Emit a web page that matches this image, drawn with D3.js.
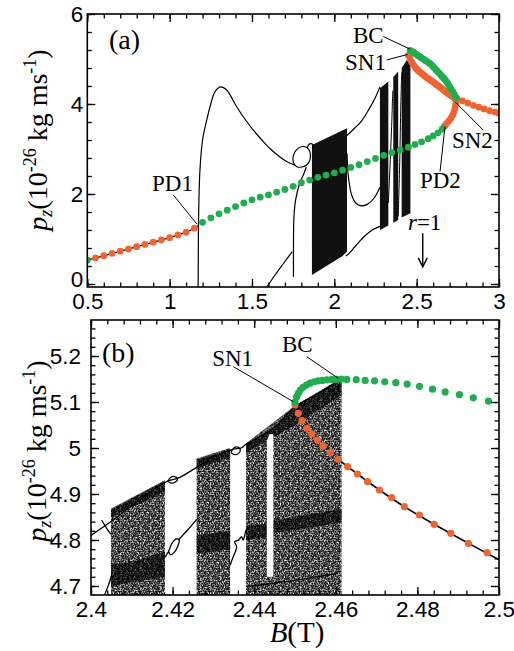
<!DOCTYPE html>
<html><head><meta charset="utf-8">
<script src="https://cdn.jsdelivr.net/npm/d3@7"></script>
<style>body{margin:0;background:#fff}</style>
</head><body>
<svg id="c" width="514" height="651" xmlns="http://www.w3.org/2000/svg"></svg>
<script>
// ---------------- DATA ----------------
// Panel (a): tick labels
const xTicksA = [0.5, 1, 1.5, 2, 2.5, 3];
const xTickLabelsA = ["0.5", "1", "1.5", "2", "2.5", "3"];
const yTicksA = [0, 2, 4, 6];
const yTickLabelsA = ["0", "2", "4", "6"];
// Panel (b): tick labels
const xTicksB = [2.4, 2.42, 2.44, 2.46, 2.48, 2.5];
const xTickLabelsB = ["2.4", "2.42", "2.44", "2.46", "2.48", "2.5"];
const yTicksB = [4.7, 4.8, 4.9, 5.0, 5.1, 5.2];
const yTickLabelsB = ["4.7", "4.8", "4.9", "5", "5.1", "5.2"];

// Panel (a) period-1 orbit: unstable (orange) before PD1
const orangeA1 = [[0.55,0.58],[0.60,0.63],[0.65,0.68],[0.70,0.73],[0.75,0.78],[0.80,0.83],[0.85,0.88],[0.90,0.93],[0.95,0.98],[1.00,1.03],[1.05,1.09],[1.10,1.15],[1.15,1.24]];
const pd1Point = [1.173, 1.29];
// stable (green) between PD1 and PD2
const greenA1 = [[0.5,0.53],[1.2,1.37],[1.25,1.47],[1.3,1.56],[1.35,1.64],[1.4,1.72],[1.45,1.80],[1.5,1.87],[1.55,1.93],[1.6,1.98],[1.65,2.04],[1.7,2.10],[1.75,2.17],[1.8,2.25],[1.85,2.31],[1.9,2.37],[1.95,2.42],[2.0,2.47],[2.05,2.53],[2.1,2.59],[2.15,2.65],[2.2,2.72],[2.25,2.79],[2.3,2.86],[2.35,2.92],[2.4,2.98],[2.45,3.04],[2.49,3.10],[2.53,3.16],[2.57,3.23],[2.6,3.29],[2.63,3.36],[2.655,3.44],[2.67,3.51]];
// orange from PD2 up to SN2
const orangeA2 = [[2.68,3.56],[2.695,3.62],[2.707,3.68],[2.718,3.75],[2.726,3.82],[2.732,3.90],[2.736,3.98],[2.74,4.06]];
// orange from SN2 to the right edge
const orangeA3 = [[2.745,4.12],[2.778,4.07],[2.811,4.02],[2.844,3.97],[2.877,3.93],[2.91,3.89],[2.943,3.85],[2.976,3.82],[3.0,3.79]];
// upper unstable branch SN1 -> SN2 (orange)
const orangeA4 = [[2.45,5.08],[2.46,5.00],[2.47,4.93],[2.48,4.87],[2.49,4.82],[2.50,4.78],[2.51,4.74],[2.52,4.71],[2.53,4.68],[2.54,4.65],[2.55,4.62],[2.56,4.59],[2.57,4.565],[2.58,4.54],[2.59,4.515],[2.60,4.49],[2.61,4.46],[2.62,4.43],[2.63,4.405],[2.64,4.38],[2.65,4.35],[2.66,4.32],[2.67,4.29],[2.68,4.26],[2.69,4.235],[2.70,4.21],[2.71,4.185],[2.72,4.16],[2.73,4.135],[2.74,4.11]];
// upper stable branch BC -> SN2 (green)
const greenA2 = [[2.46,5.19],[2.47,5.17],[2.48,5.15],[2.49,5.12],[2.50,5.10],[2.51,5.07],[2.52,5.05],[2.53,5.02],[2.54,5.00],[2.55,4.97],[2.56,4.95],[2.57,4.92],[2.58,4.90],[2.59,4.87],[2.60,4.83],[2.61,4.79],[2.62,4.75],[2.63,4.71],[2.64,4.67],[2.65,4.63],[2.66,4.59],[2.67,4.55],[2.68,4.50],[2.69,4.45],[2.70,4.39],[2.71,4.33],[2.72,4.27],[2.73,4.21],[2.74,4.14]];
// black bifurcation curves of panel (a)
const curveHump = [[1.173,-0.07],[1.174,0.6],[1.176,1.5],[1.184,2.53],[1.2,3.2],[1.225,3.64],[1.25,4.0],[1.275,4.27],[1.31,4.38],[1.346,4.31],[1.407,3.94],[1.46,3.65],[1.508,3.42],[1.56,3.2],[1.609,3.01],[1.66,2.85],[1.711,2.72],[1.761,2.64]];
const curveBubble = [[1.761,2.64],[1.75,2.72],[1.752,2.86],[1.77,2.98],[1.80,3.05],[1.83,3.04],[1.848,2.97],[1.855,2.86],[1.85,2.74],[1.83,2.64],[1.80,2.60],[1.775,2.60],[1.761,2.64]];
const curveBubble2 = [[1.835,3.02],[1.845,3.10],[1.86,3.12],[1.872,3.08],[1.866,3.0]];
const curveDiag = [[1.59,-0.07],[1.64,0.2],[1.69,0.45],[1.745,0.72]];
const curveVert = [[1.752,0.16],[1.752,0.9],[1.755,1.5],[1.765,1.87],[1.79,2.24],[1.815,2.45],[1.83,2.6]];
const curveU = [[2.077,2.9],[2.085,2.4],[2.105,1.98],[2.13,1.8],[2.16,1.74],[2.2,1.77],[2.24,1.9],[2.277,2.15]];
const curveUpper = [[2.077,3.3],[2.12,3.45],[2.165,3.62],[2.21,3.88],[2.25,4.15],[2.277,4.38]];
const curveLowerR = [[2.07,0.62],[2.09,0.68],[2.13,0.85],[2.18,1.05],[2.23,1.2],[2.277,1.28]];
const curveGap1 = [[2.328,1.8],[2.338,2.6],[2.348,3.5],[2.355,4.3]];
const curveGap2 = [[2.388,1.5],[2.397,2.7],[2.404,4.0],[2.409,4.7]];
// chaotic bands of panel (a) (outlines)
const bandA1 = [[1.864,3.09],[1.95,3.24],[2.077,3.46],[2.077,0.72],[2.05,0.62],[1.864,0.2]];
const bandA2 = [[2.277,4.35],[2.328,4.5],[2.328,1.3],[2.277,1.2]];
const bandA3 = [[2.358,4.6],[2.388,4.72],[2.388,1.42],[2.358,1.36]];
const bandA4 = [[2.409,4.8],[2.449,5.02],[2.462,5.05],[2.462,1.57],[2.409,1.48]];

// Panel (b)
const greenB = [[2.4500,5.100],[2.4504,5.111],[2.4508,5.119],[2.4513,5.126],[2.4520,5.132],[2.4528,5.137],[2.4537,5.141],[2.4547,5.144],[2.4557,5.146],[2.4567,5.147],[2.4578,5.148],[2.4590,5.149],[2.4602,5.149],[2.4614,5.150],[2.4627,5.149],[2.4650,5.1485],[2.4672,5.147],[2.4695,5.146],[2.4720,5.144],[2.4747,5.142],[2.4775,5.139],[2.4805,5.134],[2.4837,5.128],[2.4868,5.122],[2.4903,5.116],[2.4937,5.109],[2.4974,5.102]];
const orangeB = [[2.45,5.0935],[2.4508,5.0754],[2.4517,5.0594],[2.4529,5.0428],[2.4541,5.0304],[2.4555,5.0174],[2.4569,5.0043],[2.4587,4.9898],[2.4606,4.9754],[2.4629,4.9594],[2.4653,4.9435],[2.4678,4.9267],[2.4707,4.9087],[2.4737,4.8920],[2.4768,4.8724],[2.4805,4.8543],[2.4841,4.8341],[2.4882,4.8146],[2.4925,4.7928],[2.4971,4.7725]];
const lineBRight = [[2.4606,4.9754],[2.4653,4.9435],[2.4707,4.9087],[2.4768,4.8724],[2.4841,4.8341],[2.4925,4.7928],[2.5,4.757]];
const mainLineB = [[2.4,4.81],[2.4049,4.84],[2.41,4.875],[2.4181,4.925],[2.4195,4.93],[2.4215,4.935],[2.4259,4.958],[2.43,4.98],[2.4341,4.995],[2.4352,4.998],[2.4368,5.0],[2.438,5.008],[2.445,5.045],[2.45,5.09],[2.455,5.115],[2.4614,5.15]];
const loopB1 = [[2.4188,4.928],[2.4195,4.936],[2.4205,4.938],[2.4212,4.933],[2.4205,4.925],[2.4195,4.924],[2.4188,4.928]];
const loopB2 = [[2.4343,4.99],[2.435,5.0],[2.436,5.002],[2.4366,4.996],[2.436,4.987],[2.435,4.986],[2.4343,4.99]];
const branchB1 = [[2.4026,4.843],[2.4038,4.826],[2.4049,4.812]];
const branchB2 = [[2.4033,4.68],[2.4042,4.70],[2.4051,4.725]];
const gapCurveB1 = [[2.4181,4.762],[2.419,4.775],[2.4198,4.792],[2.4208,4.802],[2.4216,4.80],[2.4212,4.785],[2.4203,4.772],[2.4195,4.768],[2.419,4.775]];
const gapCurveB1b = [[2.4214,4.80],[2.4235,4.82],[2.4259,4.845]];
const gapCurveB2 = [[2.4341,4.745],[2.4347,4.76],[2.4357,4.785],[2.4352,4.796],[2.4362,4.80],[2.4369,4.807],[2.4373,4.80],[2.4378,4.815],[2.438,4.822]];
const bottomDiagB = [[2.438,4.699],[2.45,4.712],[2.4606,4.728]];
// chaotic clouds of panel (b)
const cloudB = [
  [[2.4049,4.67],[2.4049,4.865],[2.411,4.895],[2.4181,4.928],[2.4181,4.67]],
  [[2.4259,4.67],[2.4259,4.975],[2.43,4.985],[2.4341,4.998],[2.4341,4.67]],
  [[2.438,4.67],[2.438,5.008],[2.445,5.045],[2.45,5.09],[2.455,5.115],[2.4614,5.152],[2.4614,4.67]]
];
const denseB = [
  [[2.4049,4.85],[2.4049,4.868],[2.4181,4.93],[2.4181,4.905]],
  [[2.4049,4.70],[2.4049,4.745],[2.411,4.755],[2.4181,4.775],[2.4181,4.72]],
  [[2.4259,4.955],[2.4259,4.977],[2.4341,5.0],[2.4341,4.98]],
  [[2.4259,4.77],[2.4259,4.81],[2.4341,4.82],[2.4341,4.78]],
  [[2.438,4.99],[2.438,5.01],[2.45,5.092],[2.4614,5.153],[2.4614,5.115],[2.45,5.05]],
  [[2.4447,4.815],[2.4447,4.842],[2.4614,4.868],[2.4614,4.838]],
  [[2.438,4.80],[2.438,4.83],[2.4431,4.835],[2.4431,4.805]]
];
const gapB = [[2.4431,4.72],[2.4431,5.015],[2.4437,5.03],[2.4447,5.03],[2.4447,4.72]];

// annotations (data coordinates)
const annA = [
  {t:"BC", at:[2.113,5.36], from:[2.297,5.50], to:[2.459,5.22]},
  {t:"SN1", at:[2.065,4.76], from:[2.318,4.98], to:[2.445,5.10]},
  {t:"SN2", at:[2.714,3.02], from:[2.733,4.05], to:[2.904,3.42]},
  {t:"PD2", at:[2.52,2.13], from:[2.672,3.50], to:[2.642,2.50]},
  {t:"PD1", at:[0.893,2.07], from:[1.022,1.98], to:[1.166,1.33]}
];
const annB = [
  {t:"SN1", at:[2.4297,5.178], from:[2.4349,5.1768], to:[2.4496,5.1007]},
  {t:"BC", at:[2.4468,5.209], from:[2.4529,5.1985], to:[2.4606,5.1516]}
];
const arrowA = {text:[2.447,1.2], from:[2.537,1.13], to:[2.537,0.38]};

// speckle tile for chaotic clouds (style)
const speckTile = [[0.3,0.8],[2.6,0.2],[5.1,1.1],[7.7,0.5],[9.0,2.3],[1.4,2.9],[3.9,2.4],[6.4,3.1],[8.2,4.6],[0.6,5.2],[2.9,4.8],[5.2,5.6],[7.1,6.2],[9.3,7.0],[1.8,7.3],[4.1,7.9],[6.0,8.6],[8.4,9.1],[0.9,9.4],[3.2,9.8],[4.6,3.9],[7.5,8.0],[2.2,6.1],[8.8,0.9]];

// ---------------- DRAW ----------------
const ORANGE = "#ef6430", GREEN = "#20ad4e";
const SERIF = "'Liberation Serif','Times New Roman',serif";
const SANS = "'Liberation Sans',Arial,Helvetica,sans-serif";
const svg = d3.select("#c");
svg.append("rect").attr("width",514).attr("height",651).attr("fill","#fff");

const xA = d3.scaleLinear().domain([0.5,3]).range([87.3,499]);
const yA = d3.scaleLinear().domain([-0.0667,6]).range([287,14]);
const xB = d3.scaleLinear().domain([2.4,2.5]).range([91,499]);
const yB = d3.scaleLinear().domain([4.6804,5.2783]).range([595,320]);

const defs = svg.append("defs");
function clip(id,x,y){
  defs.append("clipPath").attr("id",id).append("rect")
    .attr("x",x.range()[0]).attr("y",y.range()[1])
    .attr("width",x.range()[1]-x.range()[0]).attr("height",y.range()[0]-y.range()[1]);
}
clip("clA",xA,yA); clip("clB",xB,yB);
function pattern(id,tr,sz){
  const p = defs.append("pattern").attr("id",id).attr("patternUnits","userSpaceOnUse")
    .attr("width",10).attr("height",10);
  if(tr) p.attr("patternTransform",tr);
  p.selectAll("rect").data(speckTile).join("rect")
    .attr("x",d=>d[0]).attr("y",d=>d[1]).attr("width",sz).attr("height",sz).attr("fill","#000");
}
pattern("spk",null,1.45); pattern("spk2","translate(4.3,5.1) rotate(33)",1.5); pattern("spk3","translate(2.1,1.7) rotate(71)",1.45);

const gA = svg.append("g").attr("clip-path","url(#clA)");
const gB = svg.append("g").attr("clip-path","url(#clB)");

function lineGen(x,y,curve){ return d3.line().x(d=>x(d[0])).y(d=>y(d[1])).curve(curve||d3.curveCatmullRom.alpha(0.5)); }
function poly(g,x,y,pts,fill){ g.append("path").attr("d",lineGen(x,y,d3.curveLinearClosed)(pts)).attr("fill",fill).attr("stroke","none"); }
function curve(g,x,y,pts,w){ g.append("path").attr("d",lineGen(x,y)(pts)).attr("fill","none").attr("stroke","#000").attr("stroke-width",w||1.2); }
function dots(g,x,y,pts,col,r){ g.append("g").selectAll("circle").data(pts).join("circle")
  .attr("cx",d=>x(d[0])).attr("cy",d=>y(d[1])).attr("r",r).attr("fill",col); }

// ---- panel (a)
[bandA1,bandA2,bandA3,bandA4].forEach(b=>poly(gA,xA,yA,b,"#111"));
[curveHump,curveBubble,curveBubble2,curveDiag,curveVert,curveU,curveUpper,curveLowerR].forEach(c=>curve(gA,xA,yA,c,1.2));
[curveGap1,curveGap2].forEach(c=>curve(gA,xA,yA,c,1.0));
curve(gA,xA,yA,[greenA1[0],...orangeA1,pd1Point],1.3);
dots(gA,xA,yA,greenA1,GREEN,3.4);
dots(gA,xA,yA,orangeA1,ORANGE,3.4);
dots(gA,xA,yA,orangeA2,ORANGE,3.4);
dots(gA,xA,yA,orangeA3,ORANGE,3.4);
dots(gA,xA,yA,orangeA4,ORANGE,3.4);
dots(gA,xA,yA,greenA2,GREEN,3.4);

// ---- panel (b)
cloudB.forEach(c=>{ poly(gB,xB,yB,c,"url(#spk)"); poly(gB,xB,yB,c,"url(#spk3)"); });
denseB.forEach(c=>{ poly(gB,xB,yB,c,"url(#spk2)"); poly(gB,xB,yB,c,"rgba(0,0,0,0.4)"); });
poly(gB,xB,yB,gapB,"#fff");
[mainLineB,loopB1,loopB2,branchB1,branchB2,gapCurveB1,gapCurveB1b,gapCurveB2,bottomDiagB].forEach(c=>curve(gB,xB,yB,c,1.3));
curve(gB,xB,yB,lineBRight,1.6);
dots(gB,xB,yB,orangeB,ORANGE,3.6);
dots(gB,xB,yB,greenB,GREEN,3.6);

// ---- axes
function axes(x,y,xMaj,xLab,xMin,yMaj,yLab,yMin,xPad,yPad){
  const [x0,x1]=x.range(), [y0,y1]=y.range();
  const g = svg.append("g");
  const mk=(fn,scale,vals,size,labels,pad,tr)=>{
    const a = fn(scale).tickValues(vals).tickSizeInner(-size).tickSizeOuter(0).tickPadding(pad)
      .tickFormat(labels ? (d,i)=>labels[i] : ()=>"");
    const gg = g.append("g").attr("transform",tr).call(a);
    gg.select(".domain").remove();
    gg.selectAll("line").attr("stroke","#000").attr("stroke-width",1.3);
    gg.selectAll("text").attr("font-family",SANS).attr("font-size",22.5).attr("fill","#000");
  };
  mk(d3.axisBottom,x,xMaj,8,xLab,xPad,`translate(0,${y0})`);
  mk(d3.axisBottom,x,xMin,4.5,null,0,`translate(0,${y0})`);
  mk(d3.axisTop,x,xMaj,8,null,0,`translate(0,${y1})`);
  mk(d3.axisTop,x,xMin,4.5,null,0,`translate(0,${y1})`);
  mk(d3.axisLeft,y,yMaj,8,yLab,yPad,`translate(${x0},0)`);
  mk(d3.axisLeft,y,yMin,4.5,null,0,`translate(${x0},0)`);
  mk(d3.axisRight,y,yMaj,8,null,0,`translate(${x1},0)`);
  mk(d3.axisRight,y,yMin,4.5,null,0,`translate(${x1},0)`);
  g.append("rect").attr("x",x0).attr("y",y1).attr("width",x1-x0).attr("height",y0-y1)
    .attr("fill","none").attr("stroke","#000").attr("stroke-width",1.6);
  return g;
}
const inDom=(s)=>v=>v>=s.domain()[0]-1e-9&&v<=s.domain()[1]+1e-9;
const axA = axes(xA,yA,xTicksA,xTickLabelsA,d3.range(0.5,3.0001,0.1).filter(inDom(xA)),
     yTicksA,yTickLabelsA,d3.range(0,6.0001,0.4).filter(inDom(yA)),6,4);
// keep the "0" y-label just clear of the "0.5" x-label
axA.selectAll("text").filter(function(){return this.textContent==="0";}).attr("dy","0.1em");
axes(xB,yB,xTicksB,xTickLabelsB,d3.range(2.4,2.50001,0.004).filter(inDom(xB)),
     yTicksB,yTickLabelsB,d3.range(4.68,5.28,0.02).filter(inDom(yB)),6.5,10);

// ---- annotations
function annotate(list,x,y){
  list.forEach(a=>{
    svg.append("line").attr("x1",x(a.from[0])).attr("y1",y(a.from[1])).attr("x2",x(a.to[0])).attr("y2",y(a.to[1]))
      .attr("stroke","#000").attr("stroke-width",1);
    svg.append("text").attr("x",x(a.at[0])).attr("y",y(a.at[1])).attr("font-family",SERIF).attr("font-size",23)
      .attr("fill","#000").text(a.t);
  });
}
annotate(annA,xA,yA);
annotate(annB,xB,yB);
// r=1 arrow
{
  const t = svg.append("text").attr("x",xA(arrowA.text[0])).attr("y",yA(arrowA.text[1]))
    .attr("font-family",SERIF).attr("font-size",23).attr("fill","#000");
  t.append("tspan").attr("font-style","italic").text("r");
  t.append("tspan").text("=1");
  const ax=xA(arrowA.from[0]), ay1=yA(arrowA.from[1]), ay2=yA(arrowA.to[1]);
  svg.append("line").attr("x1",ax).attr("y1",ay1).attr("x2",ax).attr("y2",ay2).attr("stroke","#000").attr("stroke-width",1.4);
  svg.append("path").attr("d",`M${ax-4.5},${ay2-9}L${ax},${ay2}L${ax+4.5},${ay2-9}`).attr("fill","none").attr("stroke","#000").attr("stroke-width",1.4);
}
// panel letters
svg.append("text").attr("x",109).attr("y",49).attr("font-family",SERIF).attr("font-size",28).text("(a)");
svg.append("text").attr("x",102).attr("y",362).attr("font-family",SERIF).attr("font-size",28).text("(b)");

// y labels
function ylab(x,y){
  const t = svg.append("text").attr("transform",`translate(${x},${y}) rotate(-90)`).attr("text-anchor","middle")
    .attr("font-family",SERIF).attr("font-size",28).attr("fill","#000");
  t.append("tspan").attr("font-style","italic").text("p");
  t.append("tspan").attr("font-style","italic").attr("font-size",18).attr("dy",5).text("z");
  t.append("tspan").attr("dy",-5).text("(10");
  t.append("tspan").attr("font-size",18).attr("dy",-11).text("-26");
  t.append("tspan").attr("dy",11).text(" kg ms");
  t.append("tspan").attr("font-size",18).attr("dy",-11).text("-1");
  t.append("tspan").attr("dy",11).text(")");
}
ylab(47,140);
ylab(46,451);
// x label
{
  const t = svg.append("text").attr("x",297).attr("y",642).attr("text-anchor","middle")
    .attr("font-family",SERIF).attr("font-size",29).attr("fill","#000");
  t.append("tspan").attr("font-style","italic").text("B");
  t.append("tspan").text("(T)");
}
</script>
</body></html>
